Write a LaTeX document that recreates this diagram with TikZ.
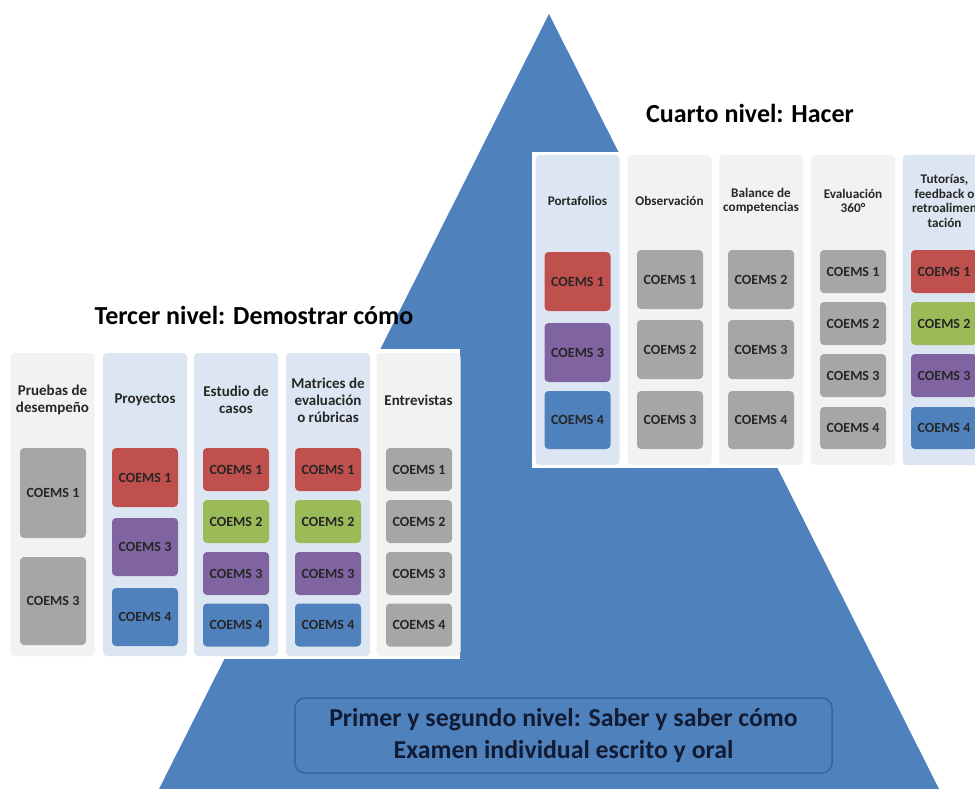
\documentclass[tikz,border=0pt]{standalone}
\usepackage{fontspec}
\setmainfont{Carlito}
\usepackage{tikz}
\usepackage{xcolor}

\definecolor{triblue}{HTML}{4F81BD}
\definecolor{triedge}{HTML}{3A6594}
\definecolor{colblue}{HTML}{DCE6F2}
\definecolor{colgray}{HTML}{F2F2F2}
\definecolor{boxred}{HTML}{C0504D}
\definecolor{boxgreen}{HTML}{9BBB59}
\definecolor{boxpurple}{HTML}{8064A2}
\definecolor{boxblue}{HTML}{4F81BD}
\definecolor{boxgray}{HTML}{A6A6A6}
\definecolor{textdark}{HTML}{262626}
\definecolor{textnavy}{HTML}{111B33}

\begin{document}
\begin{tikzpicture}[x=1pt,y=-1pt,
  col/.style={rectangle, rounded corners=4pt, minimum width=84pt, inner sep=0pt},
  bluecol/.style={col, fill=colblue},
  graycol/.style={col, fill=colgray},
  lhead/.style={align=center, text=textdark, font=\bfseries\fontsize{15}{17}\selectfont},
  rhead/.style={align=center, text=textdark, font=\bfseries\fontsize{13.2}{14.5}\selectfont},
  coems/.style={rectangle, rounded corners=4pt, minimum width=66pt, inner sep=0pt,
    text=textdark, font=\bfseries\fontsize{14}{16}\selectfont},
  red/.style={coems, fill=boxred},
  green/.style={coems, fill=boxgreen},
  purple/.style={coems, fill=boxpurple},
  blue/.style={coems, fill=boxblue},
  gray/.style={coems, fill=boxgray},
  title/.style={text=black, font=\bfseries\fontsize{26}{30}\selectfont}]
  \clip (0,0) rectangle (975,789);
  \fill[white] (0,0) rectangle (975,789);

  % pyramid
  \coordinate (apex) at (549,14);
  \coordinate (bl)   at (159,789);
  \coordinate (br)   at (939,789);
  \fill[triblue] (apex) -- (bl) -- (br) -- cycle;

  % third level
  \node[title] (t3) at (254,315) {Tercer nivel: Demostrar cómo};
  \fill[white] (6,349) rectangle (460,659);

  \node[graycol, minimum height=303pt] (L1) at (52.5,504.5) {};
  \node[bluecol, minimum height=303pt] (L2) at (145,504.5)  {};
  \node[bluecol, minimum height=303pt] (L3) at (236,504.5)  {};
  \node[bluecol, minimum height=303pt] (L4) at (328,504.5)  {};
  \node[graycol, minimum height=303pt] (L5) at (418.5,504.5) {};

  \node[lhead] (hL1) at (52.5,400) {Pruebas de\\desempeño};
  \node[lhead] (hL2) at (145,400)  {Proyectos};
  \node[lhead] (hL3) at (236,400)  {Estudio de\\casos};
  \node[lhead] (hL4) at (328,400)  {Matrices de\\evaluación\\o rúbricas};
  \node[lhead] (hL5) at (418.5,400) {Entrevistas};

  \node[gray, minimum height=90pt] (L1a) at (53,493) {COEMS 1};
  \node[gray, minimum height=88pt] (L1b) at (53,601) {COEMS 3};

  \node[red,    minimum height=59pt] (L2a) at (145,477.5) {COEMS 1};
  \node[purple, minimum height=58pt] (L2b) at (145,547)   {COEMS 3};
  \node[blue,   minimum height=58pt] (L2c) at (145,617)   {COEMS 4};

  \node[red,    minimum height=43pt] (L3a) at (236,469.5) {COEMS 1};
  \node[green,  minimum height=43pt] (L3b) at (236,521.5) {COEMS 2};
  \node[purple, minimum height=43pt] (L3c) at (236,573.5) {COEMS 3};
  \node[blue,   minimum height=43pt] (L3d) at (236,625)   {COEMS 4};

  \node[red,    minimum height=43pt] (L4a) at (328,469.5) {COEMS 1};
  \node[green,  minimum height=43pt] (L4b) at (328,521.5) {COEMS 2};
  \node[purple, minimum height=43pt] (L4c) at (328,573.5) {COEMS 3};
  \node[blue,   minimum height=43pt] (L4d) at (328,625)   {COEMS 4};

  \node[gray, minimum height=43pt] (L5a) at (419,469.5) {COEMS 1};
  \node[gray, minimum height=43pt] (L5b) at (419,521.5) {COEMS 2};
  \node[gray, minimum height=43pt] (L5c) at (419,573.5) {COEMS 3};
  \node[gray, minimum height=43pt] (L5d) at (419,625)   {COEMS 4};

  % fourth level
  \node[title] (t4) at (750,113) {Cuarto nivel: Hacer};
  \fill[white] (532,152) rectangle (975,468);

  \node[bluecol, minimum height=310pt] (R1) at (577.5,310) {};
  \node[graycol, minimum height=310pt] (R2) at (669.5,310) {};
  \node[graycol, minimum height=310pt] (R3) at (761,310)   {};
  \node[graycol, minimum height=310pt] (R4) at (853,310)   {};
  \node[bluecol, minimum height=310pt] (R5) at (944.5,310) {};

  \node[rhead] (hR1) at (577.5,201) {Portafolios};
  \node[rhead] (hR2) at (669.5,201) {Observación};
  \node[rhead] (hR3) at (761,201)   {Balance de\\competencias};
  \node[rhead] (hR4) at (853,201)   {Evaluación\\360°};
  \node[rhead] (hR5) at (944.5,201) {Tutorías,\\feedback o\\retroalimen\\tación};

  \node[red,    minimum height=59pt] (R1a) at (577.5,281.5) {COEMS 1};
  \node[purple, minimum height=59pt] (R1b) at (577.5,352.5) {COEMS 3};
  \node[blue,   minimum height=58pt] (R1c) at (577.5,420)   {COEMS 4};

  \node[gray, minimum height=59pt] (R2a) at (670,279.5) {COEMS 1};
  \node[gray, minimum height=59pt] (R2b) at (670,349.5) {COEMS 2};
  \node[gray, minimum height=58pt] (R2c) at (670,420)   {COEMS 3};

  \node[gray, minimum height=59pt] (R3a) at (761,279.5) {COEMS 2};
  \node[gray, minimum height=59pt] (R3b) at (761,349.5) {COEMS 3};
  \node[gray, minimum height=58pt] (R3c) at (761,420)   {COEMS 4};

  \node[gray, minimum height=43pt] (R4a) at (853,271.5) {COEMS 1};
  \node[gray, minimum height=43pt] (R4b) at (853,323.5) {COEMS 2};
  \node[gray, minimum height=43pt] (R4c) at (853,375.5) {COEMS 3};
  \node[gray, minimum height=42pt] (R4d) at (853,428)   {COEMS 4};

  \node[red,    minimum height=43pt] (R5a) at (944,271.5) {COEMS 1};
  \node[green,  minimum height=43pt] (R5b) at (944,323.5) {COEMS 2};
  \node[purple, minimum height=43pt] (R5c) at (944,375.5) {COEMS 3};
  \node[blue,   minimum height=42pt] (R5d) at (944,428)   {COEMS 4};

  % first and second level
  \node[draw=triedge, line width=1.5pt, fill=triblue, rounded corners=10pt,
    minimum width=537pt, minimum height=75pt, align=center, text=textnavy,
    font=\bfseries\fontsize{25.8}{32}\selectfont] (base) at (563.5,735.5)
    {Primer y segundo nivel: Saber y saber cómo\\Examen individual escrito y oral};
\end{tikzpicture}
\end{document}
